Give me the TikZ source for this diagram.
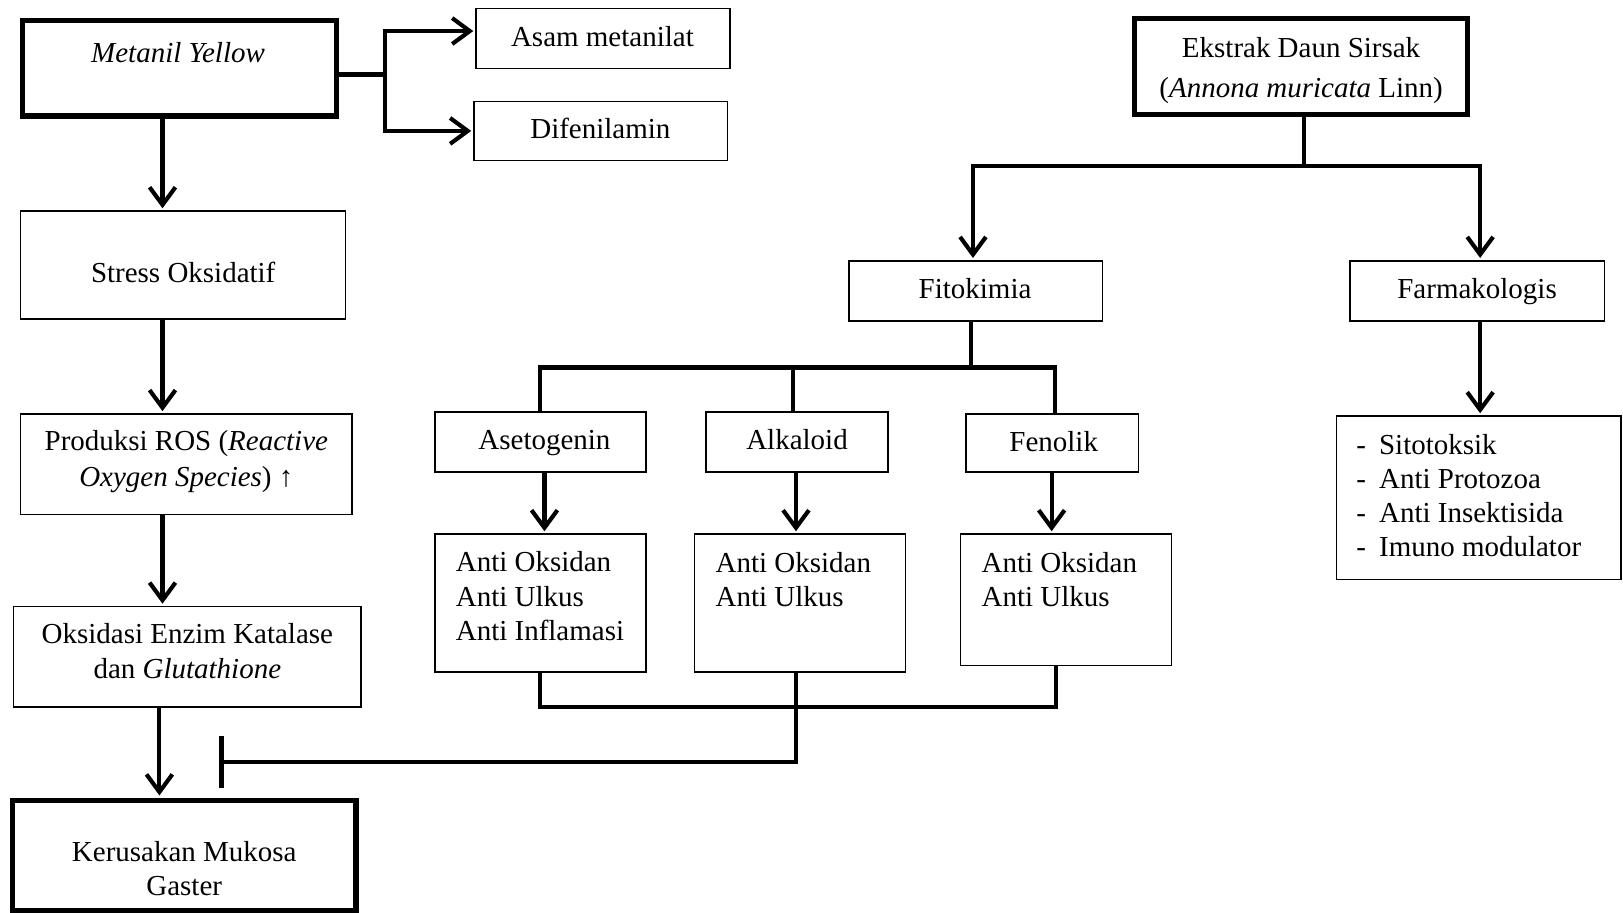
\documentclass[tikz,border=0pt]{standalone}
\usepackage{fontspec}
\setmainfont{Liberation Serif}
\usetikzlibrary{arrows.meta,fit}
\tikzset{
 thinbox/.style={draw, line width=0.75pt, inner sep=0pt},
 thickbox/.style={draw, line width=2.5pt, inner sep=0pt},
 txt/.style={inner sep=0pt, align=center},
 ltxt/.style={inner sep=0pt, align=left, anchor=west},
 conn/.style={line width=2pt},
 arr/.style={conn, -{Straight Barb[length=8.5pt,width=12.5pt]}, shorten >=1pt},
 inhib/.style={conn, -{Bar[width=25pt]}}
}
\begin{document}
\begin{tikzpicture}[x=0.5pt,y=-0.5pt,font=\fontsize{14}{16.5}\selectfont]
\useasboundingbox (0,0) rectangle (1568,882);
% left column
\node[thickbox, fit={(22,20)(325,112)}] (my) {};
\node[txt] (myT) at (172,51) {\textit{Metanil Yellow}};
\node[thinbox, fit={(460,8)(705,66)}] (am) {};
\node[txt] (amT) at (582,35) {Asam metanilat};
\node[thinbox, fit={(458,98)(703,155)}] (df) {};
\node[txt] (dfT) at (580,124) {Difenilamin};
\node[thinbox, fit={(20,204)(334,308)}] (so) {};
\node[txt] (soT) at (177,263) {Stress Oksidatif};
\node[thinbox, fit={(20,400)(340,497)}] (ros) {};
\node[txt, font=\fontsize{14}{17}\selectfont] (rosT) at (180,446) {Produksi ROS (\textit{Reactive}\\\textit{Oxygen Species}) ↑};
\node[thinbox, fit={(13,586)(349,683)}] (ok) {};
\node[txt] (okT) at (181,629) {Oksidasi Enzim Katalase\\dan \textit{Glutathione}};
\node[thickbox, fit={(12,773)(344,880)}] (ks) {};
\node[txt] (ksT) at (178,839) {Kerusakan Mukosa\\Gaster};
% right part
\node[thickbox, fit={(1096,18)(1418,111)}] (ek) {};
\node[txt, font=\fontsize{14}{19}\selectfont] (ekT) at (1257,68) {Ekstrak Daun Sirsak\\(\textit{Annona muricata} Linn)};
\node[thinbox, fit={(820,252)(1065,310)}] (fi) {};
\node[txt] (fiT) at (942,279) {Fitokimia};
\node[thinbox, fit={(1304,252)(1550,310)}] (fa) {};
\node[txt] (faT) at (1427,282) {Farmakologis};
\node[thinbox, fit={(420,398)(624,456)}] (as) {};
\node[txt] (asT) at (526,428) {Asetogenin};
\node[thinbox, fit={(682,398)(858,456)}] (al) {};
\node[txt] (alT) at (770,425) {Alkaloid};
\node[thinbox, fit={(933,400)(1100,456)}] (fe) {};
\node[txt] (feT) at (1018,427) {Fenolik};
\node[thinbox, fit={(420,516)(624,649)}] (r1) {};
\node[ltxt] (r1T) at (440,576) {Anti Oksidan\\Anti Ulkus\\Anti Inflamasi};
\node[thinbox, fit={(671,516)(875,649)}] (r2) {};
\node[ltxt] (r2T) at (691,560) {Anti Oksidan\\Anti Ulkus};
\node[thinbox, fit={(928,516)(1132,643)}] (r3) {};
\node[ltxt] (r3T) at (948,560) {Anti Oksidan\\Anti Ulkus};
\node[thinbox, fit={(1291,402)(1566,560)}] (rf) {};
\node[ltxt] (rfT) at (1310,479) {\makebox[11pt][l]{-}Sitotoksik\\\makebox[11pt][l]{-}Anti Protozoa\\\makebox[11pt][l]{-}Anti Insektisida\\\makebox[11pt][l]{-}Imuno modulator};
% coordinates
\coordinate (j1) at (372,72);
\coordinate (cA) at (157,0);
\coordinate (cB) at (154,0);
\coordinate (e1) at (1260,160);
\coordinate (xf) at (940,0);
\coordinate (xfa) at (1430,0);
\coordinate (f1) at (938,355);
\coordinate (x522) at (522,0);
\coordinate (x766) at (766,0);
\coordinate (x1019) at (1019,0);
\coordinate (x526) at (526,0);
\coordinate (x769) at (769,0);
\coordinate (x1016) at (1016,0);
\coordinate (x1020) at (1020,0);
\coordinate (b1) at (522,683);
\coordinate (inh) at (212,736);
% connectors
\draw[conn] (my.east |- j1) -- (j1);
\draw[arr] (j1) |- ([yshift=3.5pt]am.west);
\draw[arr] (j1) |- (df.west);
\draw[arr] (my.south -| cA) -- (so.north -| cA);
\draw[arr] (so.south -| cA) -- (ros.north -| cA);
\draw[arr] (ros.south -| cA) -- (ok.north -| cA);
\draw[arr] (ok.south -| cB) -- (ks.north -| cB);
\draw[conn] (ek.south -| e1) -- (e1);
\draw[arr] (e1) -| (fi.north -| xf);
\draw[arr] (e1) -| (fa.north -| xfa);
\draw[conn] (fi.south -| f1) -- (f1);
\draw[conn] (f1) -| (as.north -| x522);
\draw[conn] (f1) -| (fe.north -| x1019);
\draw[conn] (al.north -| x766) -- (x766 |- f1);
\draw[arr] (as.south -| x526) -- (r1.north -| x526);
\draw[arr] (al.south -| x769) -- (r2.north -| x769);
\draw[arr] (fe.south -| x1016) -- (r3.north -| x1016);
\draw[arr] (fa.south -| xfa) -- (rf.north -| xfa);
\draw[conn] (r1.south -| b1) -- (b1) -| (r3.south -| x1020);
\draw[inhib] (r2.south -| x769) |- (inh);
\end{tikzpicture}
\end{document}
